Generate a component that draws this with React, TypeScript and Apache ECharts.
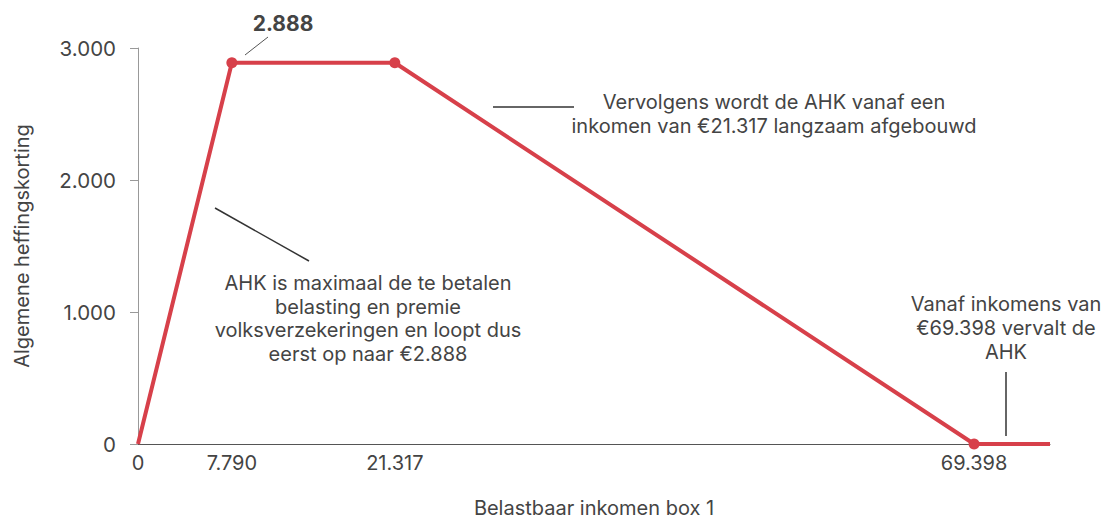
import React, { useEffect, useRef } from "react";
import * as echarts from "echarts";

const xPoints = [0, 7790, 21317, 69398, 75700];
const yValues = [0, 2888, 2888, 0, 0];
const markerShown = [false, true, true, true, false];
const xTickValues = [0, 7790, 21317, 69398];
const yTicks = [0, 1000, 2000, 3000];

const annotationLeft = [
  "AHK is maximaal de te betalen",
  "belasting en premie",
  "volksverzekeringen en loopt dus",
  "eerst op naar €2.888",
];
const annotationTop = [
  "Vervolgens wordt de AHK vanaf een",
  "inkomen van €21.317 langzaam afgebouwd",
];
const annotationRight = ["Vanaf inkomens van", "€69.398 vervalt de", "AHK"];
const peakLabel = "2.888";

const FONT = "Inter, 'Noto Sans', sans-serif";
const TEXT = "#444444";
const RED = "#d7404a";

const fmt = (v: number) =>
  String(Math.round(v)).replace(/\B(?=(\d{3})+(?!\d))/g, ".");

export default function App() {
  const ref = useRef<HTMLDivElement>(null);
  useEffect(() => {
    document.body.style.margin = "0";
    if (!ref.current) return;
    const chart = echarts.init(ref.current, null, { renderer: "svg" });
    const lineText = (lines: string[], cx: number, y0: number, lh: number) =>
      lines.map((t, i) => ({
        type: "text",
        x: cx,
        y: y0 + i * lh,
        style: {
          text: t,
          fill: TEXT,
          font: `20px ${FONT}`,
          textAlign: "center",
          textVerticalAlign: "middle",
        },
      }));
    chart.setOption({
      animation: false,
      textStyle: { fontFamily: FONT },
      grid: {
        left: 138,
        right: 62,
        top: 48,
        bottom: 76,
        containLabel: false,
        outerBoundsMode: "none",
      },
      xAxis: {
        type: "value",
        min: 0,
        max: xPoints[xPoints.length - 1],
        name: "Belastbaar inkomen box 1",
        nameLocation: "middle",
        nameGap: 54,
        nameTextStyle: { color: TEXT, fontSize: 20, fontFamily: FONT, lineHeight: 20 },
        axisLine: { show: true, lineStyle: { color: "#555555", width: 1 } },
        axisTick: { show: false },
        splitLine: { show: false },
        axisLabel: {
          customValues: xTickValues,
          formatter: (v: number) => fmt(v),
          color: TEXT,
          fontSize: 20,
          fontFamily: FONT,
          margin: 9,
        },
      },
      yAxis: {
        type: "value",
        min: 0,
        max: yTicks[yTicks.length - 1],
        interval: 1000,
        name: "Algemene heffingskorting",
        nameLocation: "middle",
        nameGap: 106,
        nameTextStyle: { color: TEXT, fontSize: 20, fontFamily: FONT },
        axisLine: { show: true, lineStyle: { color: "#999999", width: 1 } },
        axisTick: { show: true, length: 8, lineStyle: { color: "#999999" } },
        splitLine: { show: false },
        axisLabel: {
          formatter: (v: number) => fmt(v),
          color: TEXT,
          fontSize: 20.5,
          fontFamily: FONT,
          margin: 22,
        },
      },
      series: [
        {
          type: "line",
          data: xPoints.map((x, i) => ({
            value: [x, yValues[i]],
            symbol: markerShown[i] ? "circle" : "none",
          })),
          symbolSize: 11,
          showSymbol: true,
          itemStyle: { color: RED },
          lineStyle: { color: RED, width: 4 },
          z: 3,
        },
      ],
      graphic: [
        ...lineText(annotationLeft, 368, 283, 23.5),
        ...lineText(annotationTop, 774, 102, 24),
        ...lineText(annotationRight, 1006, 304, 24),
        {
          type: "text",
          x: 283,
          y: 23,
          style: {
            text: peakLabel,
            fill: TEXT,
            font: `bold 21px ${FONT}`,
            textAlign: "center",
            textVerticalAlign: "middle",
          },
        },
        { type: "line", shape: { x1: 245, y1: 55, x2: 268, y2: 37 }, style: { stroke: "#555", lineWidth: 1 } },
        { type: "line", shape: { x1: 215, y1: 208, x2: 309, y2: 261 }, style: { stroke: "#333", lineWidth: 1.5 } },
        { type: "line", shape: { x1: 493, y1: 107, x2: 574, y2: 107 }, style: { stroke: "#333", lineWidth: 1.5 } },
        { type: "line", shape: { x1: 1006, y1: 372, x2: 1006, y2: 436 }, style: { stroke: "#333", lineWidth: 1.5 } },
      ],
    });
    return () => chart.dispose();
  }, []);
  return <div ref={ref} style={{ width: 1112, height: 520 }} />;
}
